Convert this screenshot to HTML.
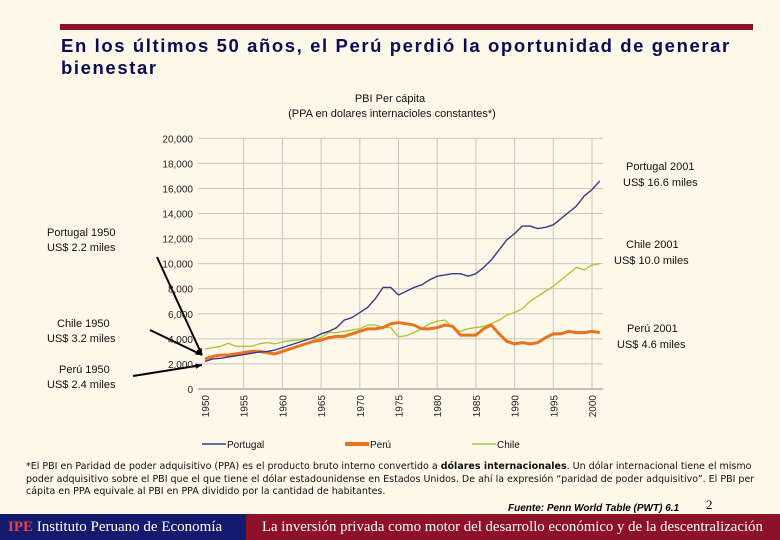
<!DOCTYPE html>
<html><head><meta charset="utf-8"><style>
body{margin:0;width:780px;height:540px;background:#fdf8e9;position:relative;overflow:hidden;font-family:"Liberation Sans",sans-serif}
.abs{position:absolute}
</style></head><body>
<div class="abs" style="left:60px;top:24px;width:693px;height:6px;background:#8b1226"></div>
<div class="abs" style="left:61px;top:35px;font-size:18.5px;font-weight:bold;color:#0b0b55;line-height:22px;letter-spacing:1.6px;white-space:nowrap">En los últimos 50 años, el Perú perdió la oportunidad de generar<br>bienestar</div>
<svg class="abs" style="left:0;top:0" width="780" height="540">
<g id="grid"></g><g id="lines"></g><g id="labels" font-family="Liberation Sans,sans-serif"></g>
</svg>
<div class="abs" style="left:26px;top:461px;width:740px;font-size:9.5px;line-height:12.5px;color:#111;font-family:'DejaVu Sans',sans-serif">*El PBI en Paridad de poder adquisitivo (PPA) es el producto bruto interno convertido a <b>dólares internacionales</b>. Un dólar internacional tiene el mismo poder adquisitivo sobre el PBI que el que tiene el dólar estadounidense en Estados Unidos. De ahí la expresión “paridad de poder adquisitivo”. El PBI per cápita en PPA equivale al PBI en PPA dividido por la cantidad de habitantes.</div>
<div class="abs" style="left:508px;top:503px;font-size:10px;font-weight:bold;font-style:italic">Fuente: Penn World Table (PWT) 6.1</div>
<div class="abs" style="left:706px;top:497px;font-size:13px;font-family:'Liberation Serif',serif">2</div>
<div class="abs" style="left:0;top:514px;width:246px;height:26px;background:#141a6e;color:#fff;font-family:'Liberation Serif',serif;font-size:15px;line-height:26px;padding-left:8px;box-sizing:border-box"><span style="color:#e2454a;font-weight:bold">IPE</span> Instituto Peruano de Economía</div>
<div class="abs" style="left:246px;top:514px;width:534px;height:26px;background:#8c1129;color:#fff;font-family:'Liberation Serif',serif;font-size:14.8px;line-height:26px;padding-left:16px;box-sizing:border-box;white-space:nowrap">La inversión privada como motor del desarrollo económico y de la descentralización</div>
<script>
const years=[];for(let y=1950;y<=2001;y++)years.push(y);
const portugal=[2.2,2.4,2.45,2.55,2.65,2.75,2.85,2.95,3.0,3.1,3.3,3.5,3.7,3.9,4.1,4.4,4.6,4.9,5.5,5.7,6.1,6.5,7.2,8.1,8.1,7.5,7.8,8.1,8.3,8.7,9.0,9.1,9.2,9.2,9.0,9.2,9.7,10.3,11.1,11.9,12.4,13.0,13.0,12.8,12.9,13.1,13.6,14.1,14.6,15.4,15.9,16.6];
const chile=[3.2,3.3,3.4,3.65,3.4,3.4,3.4,3.6,3.7,3.6,3.75,3.85,3.9,4.0,4.0,4.1,4.5,4.5,4.6,4.7,4.8,5.1,5.1,4.9,4.9,4.15,4.25,4.5,4.8,5.2,5.4,5.5,4.9,4.6,4.8,4.9,5.0,5.2,5.5,5.9,6.1,6.4,7.0,7.4,7.8,8.2,8.7,9.2,9.7,9.5,9.9,10.0];
const peru=[2.4,2.6,2.7,2.7,2.8,2.9,3.0,3.0,2.9,2.8,3.0,3.2,3.4,3.6,3.8,3.9,4.1,4.2,4.2,4.4,4.6,4.8,4.8,4.9,5.2,5.3,5.2,5.1,4.8,4.8,4.9,5.1,5.0,4.3,4.3,4.3,4.8,5.1,4.4,3.8,3.6,3.7,3.6,3.7,4.1,4.4,4.4,4.6,4.5,4.5,4.6,4.5];
const yTicks=[0,2000,4000,6000,8000,10000,12000,14000,16000,18000,20000];
const xTicks=[1950,1955,1960,1965,1970,1975,1980,1985,1990,1995,2000];
const X=y=>205+(y-1950)*7.74, Y=v=>389-v*0.012535;
const NS='http://www.w3.org/2000/svg';
function mk(t,a,p){const e=document.createElementNS(NS,t);for(const k in a)e.setAttribute(k,a[k]);document.getElementById(p).appendChild(e);return e;}
yTicks.forEach(v=>{const l=mk('line',{x1:198,x2:603,y1:Y(v),y2:Y(v),stroke:v?'#c9c6bc':'#888','stroke-width':1},'grid');

const t=mk('text',{x:193,y:Y(v)+4,'text-anchor':'end','font-size':10,fill:'#222'},'labels');t.textContent=v.toLocaleString('en-US');
});
xTicks.forEach(y=>{if(y>1950){const l=mk('line',{x1:X(y),x2:X(y),y1:Y(20000),y2:389,stroke:'#c9c6bc','stroke-width':1},'grid');
}
const t=mk('text',{x:0,y:0,'text-anchor':'end','font-size':10,fill:'#222',transform:`translate(${X(y)+4},395) rotate(-90)`},'labels');t.textContent=y;
});
function series(d,c,w,n){const p=mk('polyline',{points:d.map((v,i)=>X(years[i])+','+Y(v*1000)).join(' '),fill:'none',stroke:c,'stroke-width':w,'stroke-linejoin':'round'},'lines');
}
series(chile,'#a8c93a',1.4,'chile-line');series(peru,'#e8731f',3,'peru-line');series(portugal,'#3a3a86',1.4,'portugal-line');
const lab=(x,y,txt,a,fs,n,fw)=>{const t=mk('text',{x,y,'text-anchor':a,'font-size':fs,fill:'#111','font-weight':fw||'normal'},'labels');t.textContent=txt;};
lab(390,102,'PBI Per cápita','middle',11,'chart-title');
lab(392,117,'(PPA en dolares internacioles constantes*)','middle',11,'chart-subtitle');
[[626,170,'Portugal 2001'],[623,186,'US$ 16.6 miles'],[626,248,'Chile 2001'],[614,264,'US$ 10.0 miles'],[627,332,'Perú 2001'],[617,348,'US$ 4.6 miles'],
[47,236,'Portugal 1950'],[47,251,'US$ 2.2 miles'],[57,327,'Chile 1950'],[47,342,'US$ 3.2 miles'],[59,373,'Perú 1950'],[47,388,'US$ 2.4 miles']].forEach(a=>lab(a[0],a[1],a[2],'start',11,'annotation'));
[[157,257,202,355],[150,330,202,355],[133,376,202,365]].forEach(a=>{const l=mk('line',{x1:a[0],y1:a[1],x2:a[2],y2:a[3],stroke:'#000','stroke-width':2},'lines');
const ang=Math.atan2(a[3]-a[1],a[2]-a[0]),s=7;const pts=[[a[2],a[3]],[a[2]-s*Math.cos(ang-0.4),a[3]-s*Math.sin(ang-0.4)],[a[2]-s*Math.cos(ang+0.4),a[3]-s*Math.sin(ang+0.4)]];
const h=mk('polygon',{points:pts.map(p=>p.join(',')).join(' '),fill:'#000'},'lines');});
[[202,'#3a3a86',1.4,'Portugal'],[345,'#e8731f',4,'Perú'],[472,'#a8c93a',1.4,'Chile']].forEach(a=>{const l=mk('line',{x1:a[0],x2:a[0]+24,y1:444,y2:444,stroke:a[1],'stroke-width':a[2]},'lines');
lab(a[0]+25,448,a[3],'start',10,'legend-entry');});
</script>
</body></html>
